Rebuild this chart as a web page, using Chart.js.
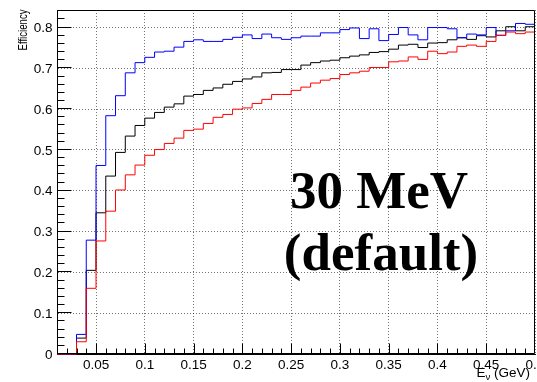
<!DOCTYPE html>
<html>
<head>
<meta charset="utf-8">
<script src="https://cdn.jsdelivr.net/npm/chart.js@4.4.1/dist/chart.umd.min.js"></script>
<style>
  html, body { margin: 0; padding: 0; background: #fff; }
  canvas { display: block; }
</style>
</head>
<body>
<canvas id="chart" width="537" height="382"></canvas>
<script>
// lower edge of each 0.01 GeV bin; the last bin ends at xMax
const binLow = [0.01, 0.02, 0.03, 0.04, 0.05, 0.06, 0.07, 0.08, 0.09, 0.10,
  0.11, 0.12, 0.13, 0.14, 0.15, 0.16, 0.17, 0.18, 0.19, 0.20,
  0.21, 0.22, 0.23, 0.24, 0.25, 0.26, 0.27, 0.28, 0.29, 0.30,
  0.31, 0.32, 0.33, 0.34, 0.35, 0.36, 0.37, 0.38, 0.39, 0.40,
  0.41, 0.42, 0.43, 0.44, 0.45, 0.46, 0.47, 0.48, 0.49];
const xMin = 0.01, xMax = 0.5;
const yMin = 0, yMax = 0.843;

const effBlue = [0, 0, 0.048, 0.279, 0.462, 0.584, 0.633, 0.689, 0.714, 0.727,
  0.740, 0.742, 0.752, 0.766, 0.770, 0.766, 0.766, 0.771, 0.776, 0.782,
  0.773, 0.784, 0.775, 0.771, 0.775, 0.779, 0.779, 0.787, 0.787, 0.795,
  0.799, 0.773, 0.797, 0.768, 0.783, 0.800, 0.782, 0.770, 0.800, 0.800,
  0.797, 0.775, 0.784, 0.782, 0.800, 0.781, 0.792, 0.810, 0.808];

const effBlack = [0, 0, 0.039, 0.205, 0.346, 0.436, 0.494, 0.534, 0.560, 0.578,
  0.592, 0.605, 0.613, 0.632, 0.636, 0.646, 0.652, 0.661, 0.668, 0.674,
  0.679, 0.689, 0.690, 0.697, 0.697, 0.708, 0.714, 0.718, 0.720, 0.726,
  0.730, 0.733, 0.739, 0.741, 0.747, 0.757, 0.759, 0.751, 0.762, 0.763,
  0.770, 0.775, 0.771, 0.780, 0.777, 0.792, 0.802, 0.792, 0.802];

const effRed = [0, 0, 0.030, 0.161, 0.277, 0.350, 0.402, 0.439, 0.463, 0.487,
  0.501, 0.516, 0.529, 0.548, 0.551, 0.565, 0.580, 0.587, 0.600, 0.603,
  0.614, 0.624, 0.636, 0.636, 0.646, 0.654, 0.664, 0.671, 0.675, 0.685,
  0.689, 0.693, 0.702, 0.702, 0.716, 0.718, 0.728, 0.722, 0.742, 0.736,
  0.740, 0.754, 0.757, 0.754, 0.766, 0.781, 0.789, 0.785, 0.789];

const xTicks = [0.05, 0.1, 0.15, 0.2, 0.25, 0.3, 0.35, 0.4, 0.45, 0.5];
const xTickLabels = ['0.05', '0.1', '0.15', '0.2', '0.25', '0.3', '0.35', '0.4', '0.45', '0.5'];
const yTicks = [0, 0.1, 0.2, 0.3, 0.4, 0.5, 0.6, 0.7, 0.8];
const yTickLabels = ['0', '0.1', '0.2', '0.3', '0.4', '0.5', '0.6', '0.7', '0.8'];
const labelLines = ['30 MeV', '(default)'];

// histogram as a step line: one point per bin edge
function histPoints(values) {
  const pts = binLow.map((x, i) => ({ x: x, y: values[i] }));
  pts.push({ x: xMax, y: values[values.length - 1] });
  return pts;
}

const labelFont = '"Liberation Sans", Arial, sans-serif';

// ROOT look: ticks inside the frame, labels, titles and the big text
const rootStyle = {
  id: 'rootStyle',
  afterDatasetsDraw(chart) {
    const { ctx, chartArea: a, scales: { x, y } } = chart;
    ctx.save();
    ctx.strokeStyle = '#000';
    ctx.lineWidth = 1;
    ctx.beginPath();
    const L = Math.round(a.left) + 0.5, R = Math.round(a.right) - 0.5;
    const T = Math.round(a.top) + 0.5, B = Math.round(a.bottom) - 0.5;
    ctx.moveTo(L, T); ctx.lineTo(R, T); ctx.lineTo(R, B); ctx.lineTo(L, B); ctx.closePath();
    // y ticks: major 0.1, minor 0.02
    for (let i = 0; i * 0.02 <= yMax; i++) {
      const py = Math.round(y.getPixelForValue(i * 0.02)) - 0.5;
      const len = i % 5 === 0 ? 14 : 7;
      ctx.moveTo(L, py); ctx.lineTo(L + len, py);
    }
    // x ticks: major 0.05, minor 0.01
    for (let i = 1; i < 49; i++) {
      const px = Math.round(x.getPixelForValue(xMin + i * 0.01)) + 0.5;
      const len = (i + 1) % 5 === 0 ? 10 : 5;
      ctx.moveTo(px, B); ctx.lineTo(px, B - len);
    }
    ctx.stroke();
    ctx.restore();
  },
  afterDraw(chart) {
    const { ctx, scales: { x, y } } = chart;
    ctx.save();
    ctx.fillStyle = '#000';

    ctx.font = '13.5px ' + labelFont;
    ctx.textAlign = 'right';
    ctx.textBaseline = 'middle';
    yTicks.forEach((v, i) => ctx.fillText(yTickLabels[i], 52.5, y.getPixelForValue(v) + 1));

    ctx.textAlign = 'center';
    ctx.textBaseline = 'alphabetic';
    xTicks.forEach((v, i) => ctx.fillText(xTickLabels[i], x.getPixelForValue(v), 368.5));

    // y title, rotated and squeezed along its length
    ctx.save();
    ctx.translate(26.5, 9.5);
    ctx.rotate(-Math.PI / 2);
    ctx.scale(0.74, 1);
    ctx.font = '13px ' + labelFont;
    ctx.textAlign = 'right';
    ctx.fillText('Efficiency', 0, 0);
    ctx.restore();

    // x title: E with subscript nu, right aligned
    ctx.textAlign = 'left';
    const big = '13.5px ' + labelFont, small = '9.5px ' + labelFont;
    ctx.font = big;
    const wE = ctx.measureText('E').width;
    const wRest = ctx.measureText(' (GeV)').width;
    ctx.font = small;
    const wNu = ctx.measureText('\u03bd').width;
    let px = 530 - (wE + wNu + wRest);
    ctx.font = big;
    ctx.fillText('E', px, 377);
    px += wE;
    ctx.font = small;
    ctx.fillText('\u03bd', px, 380);
    px += wNu;
    ctx.font = big;
    ctx.fillText(' (GeV)', px, 377);

    // big annotation
    ctx.font = 'bold 53px "Liberation Serif", "Times New Roman", serif';
    ctx.textAlign = 'center';
    ctx.fillText(labelLines[0], 379, 208);
    ctx.fillText(labelLines[1], 381, 270);
    ctx.restore();
  }
};

const lineStyle = { borderWidth: 1, pointRadius: 0, stepped: 'before', fill: false, clip: false, tension: 0 };

new Chart(document.getElementById('chart'), {
  type: 'line',
  data: {
    datasets: [
      Object.assign({ label: 'red', data: histPoints(effRed), borderColor: '#ff0000' }, lineStyle),
      Object.assign({ label: 'blue', data: histPoints(effBlue), borderColor: '#0000ff' }, lineStyle),
      Object.assign({ label: 'black', data: histPoints(effBlack), borderColor: '#000000' }, lineStyle)
    ]
  },
  options: {
    responsive: false,
    animation: false,
    layout: { padding: { left: 57, right: 2, top: 10, bottom: 28 } },
    plugins: { legend: { display: false }, tooltip: { enabled: false } },
    scales: {
      x: {
        type: 'linear',
        min: xMin,
        max: xMax,
        afterBuildTicks: (s) => { s.ticks = xTicks.map(v => ({ value: v })); },
        ticks: { display: false },
        grid: { color: 'rgba(0,0,0,0.55)', lineWidth: 1, drawTicks: false },
        border: { display: true, color: '#000', width: 1, dash: [1, 2] }
      },
      y: {
        type: 'linear',
        min: yMin,
        max: yMax,
        afterBuildTicks: (s) => { s.ticks = yTicks.map(v => ({ value: v })); },
        ticks: { display: false },
        grid: { color: 'rgba(0,0,0,0.55)', lineWidth: 1, drawTicks: false },
        border: { display: true, color: '#000', width: 1, dash: [1, 2] }
      }
    }
  },
  plugins: [rootStyle]
});
</script>
</body>
</html>
